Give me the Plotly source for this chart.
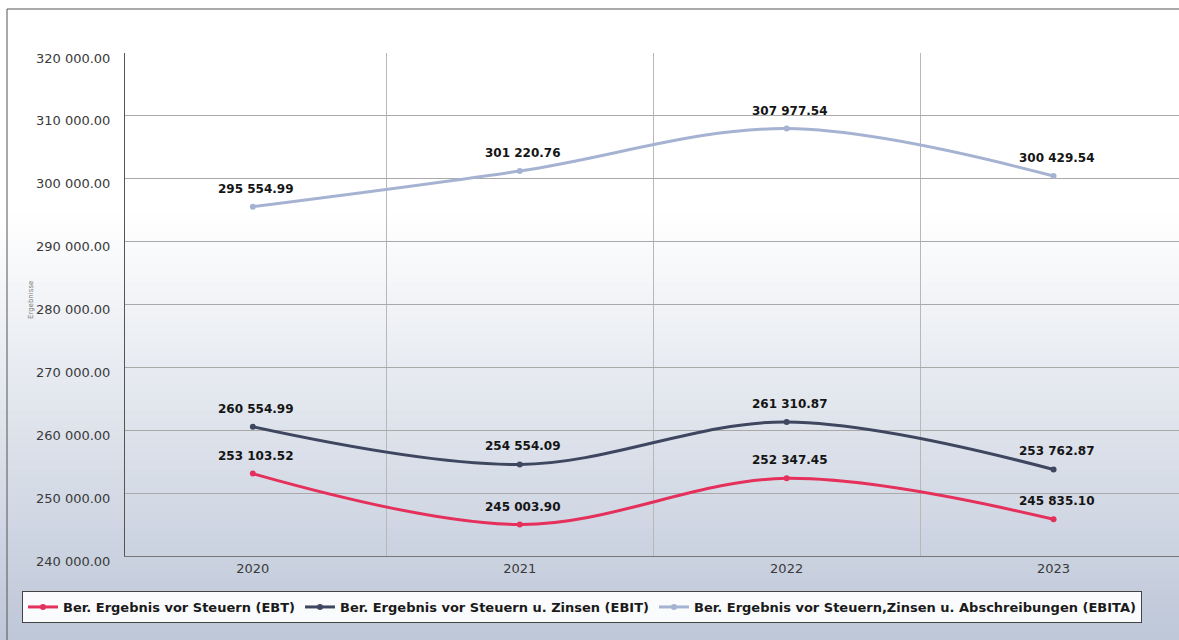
import plotly.graph_objects as go

years = ["2020", "2021", "2022", "2023"]
ebt = [253103.52, 245003.90, 252347.45, 245835.10]
ebit = [260554.99, 254554.09, 261310.87, 253762.87]
ebita = [295554.99, 301220.76, 307977.54, 300429.54]
series_names = [
    "Ber. Ergebnis vor Steuern (EBT)",
    "Ber. Ergebnis vor Steuern u. Zinsen (EBIT)",
    "Ber. Ergebnis vor Steuern,Zinsen u. Abschreibungen (EBITA)",
]
y_ticks = [240000, 250000, 260000, 270000, 280000, 290000, 300000, 310000, 320000]

W, H = 1179, 640
L, T, B = 125, 53, 556  # plot area pixel edges
colors = ["#e5305c", "#3e4660", "#a5b2d2"]
FONT = "DejaVu Sans"

xs = list(range(len(years)))
fig = go.Figure()
for name, vals, c in zip(series_names, [ebt, ebit, ebita], colors):
    fig.add_trace(go.Scatter(
        x=xs, y=vals, name=name, mode="lines+markers",
        line=dict(color=c, width=3, shape="spline", smoothing=1.0),
        marker=dict(color=c, size=6),
    ))
    for xi, v in zip(xs, vals):
        fig.add_annotation(
            x=xi, y=v, xref="x", yref="y",
            text="<b>" + f"{v:,.2f}".replace(",", " ") + "</b>",
            showarrow=False, yshift=18, xshift=3,
            font=dict(family=FONT, size=12, color="#151515"),
        )

def px2py(py):
    return (B - py) / (B - T)

def px2px(pxv):
    return (pxv - L) / (W - L)

shapes = []
g0, g1 = 215, 640
top_col = (255, 255, 255)
bot_col = (190, 199, 216)
shapes.append(dict(type="rect", xref="paper", yref="paper", layer="below",
                   x0=px2px(0), x1=px2px(W), y0=px2py(g0), y1=px2py(0),
                   fillcolor="white", line=dict(width=0)))
n = 50
for i in range(n):
    y0 = g0 + (g1 - g0) * i / n
    y1 = g0 + (g1 - g0) * (i + 1) / n
    t = (i + 0.5) / n
    col = tuple(int(round(a + (b - a) * t)) for a, b in zip(top_col, bot_col))
    shapes.append(dict(type="rect", xref="paper", yref="paper", layer="below",
                       x0=px2px(0), x1=px2px(W), y0=px2py(y1), y1=px2py(y0) + 0.001,
                       fillcolor="rgb(%d,%d,%d)" % col, line=dict(width=0)))
shapes.append(dict(type="line", xref="paper", yref="paper",
                   x0=px2px(7), x1=px2px(W), y0=px2py(9), y1=px2py(9),
                   line=dict(color="#555", width=1)))
shapes.append(dict(type="line", xref="paper", yref="paper",
                   x0=px2px(7), x1=px2px(7), y0=px2py(9), y1=px2py(H),
                   line=dict(color="#555", width=1)))

fig.add_annotation(
    xref="paper", yref="paper", x=px2px(25), y=px2py(300),
    text="Ergebnisse", textangle=-90, showarrow=False,
    font=dict(family=FONT, size=7, color="#777"),
)

fig.update_layout(
    width=W, height=H,
    margin=dict(l=L, r=0, t=T, b=H - B),
    paper_bgcolor="white",
    plot_bgcolor="rgba(0,0,0,0)",
    separators=". ",
    font=dict(family=FONT, size=13, color="#3a3a3a"),
    shapes=shapes,
    showlegend=True,
    legend=dict(
        orientation="h", xref="paper", yref="paper",
        x=px2px(22), xanchor="left", y=px2py(591), yanchor="top",
        bgcolor="rgba(255,255,255,0.92)", bordercolor="#444", borderwidth=1,
        font=dict(family=FONT, size=13, color="#1a1a1a", weight="bold"),
        itemwidth=30, tracegroupgap=0,
    ),
    xaxis=dict(
        range=[-0.479, 3.47], tickmode="array", tickvals=xs, ticktext=years,
        showgrid=False, zeroline=False, showline=True, linecolor="#777",
        ticks="", ticklabelstandoff=0,
        tickfont=dict(family=FONT, size=13, color="#3a3a3a"),
        minor=dict(tick0=0.5, dtick=1, showgrid=True, gridcolor="#b8b8b8", gridwidth=1),
    ),
    yaxis=dict(
        range=[240000, 320000], tickmode="array", tickvals=y_ticks,
        tickformat=",.2f", showgrid=True, gridcolor="#a9a9a9", gridwidth=1,
        zeroline=False, showline=True, linecolor="#555", ticks="",
        ticklabelstandoff=11, ticklabelshift=5,
        tickfont=dict(family=FONT, size=13, color="#3a3a3a"),
    ),
)

fig.write_html("out.html", config={"displayModeBar": False},
               post_script="document.body.style.margin='0px';")
